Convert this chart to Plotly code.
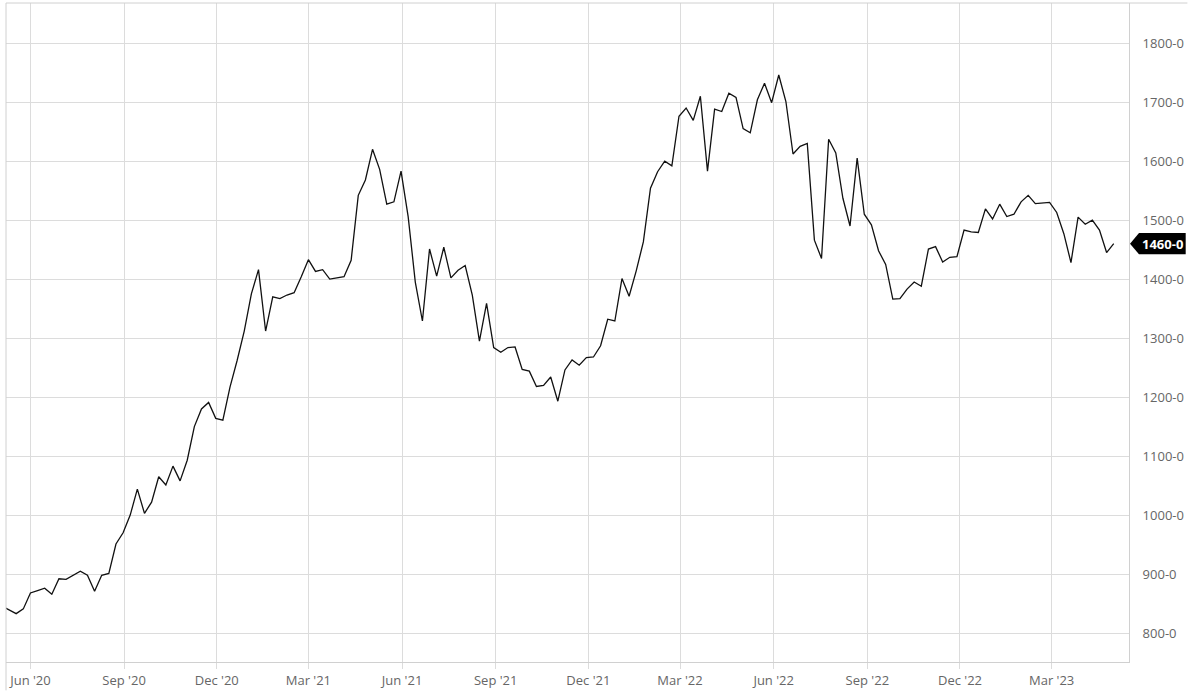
import pandas as pd
import plotly.graph_objects as go

# Weekly closes, first week starting 2020-05-04
start_date = "2020-05-04"
prices = [
    846, 840, 833, 841, 868, 872, 876, 866, 892, 891,
    898, 905, 898, 871, 898, 901, 951, 970, 1000, 1044,
    1003, 1022, 1065, 1051, 1083, 1058, 1093, 1150, 1180, 1191,
    1164, 1161, 1217, 1262, 1312, 1375, 1416, 1312, 1370, 1367,
    1373, 1377, 1404, 1433, 1413, 1416, 1400, 1402, 1404, 1432,
    1542, 1568, 1620, 1586, 1527, 1531, 1583, 1506, 1395, 1329,
    1451, 1405, 1454, 1402, 1415, 1423, 1373, 1295, 1359, 1284,
    1276, 1284, 1285, 1247, 1244, 1218, 1220, 1234, 1193, 1246,
    1263, 1254, 1267, 1268, 1287, 1332, 1329, 1401, 1371, 1414,
    1463, 1554, 1582, 1600, 1592, 1676, 1690, 1669, 1710, 1583,
    1688, 1684, 1715, 1708, 1655, 1648, 1704, 1732, 1699, 1746,
    1701, 1612, 1625, 1630, 1466, 1435, 1637, 1614, 1537, 1490,
    1605, 1510, 1492, 1448, 1425, 1366, 1367, 1383, 1395, 1388,
    1451, 1455, 1429, 1437, 1438, 1483, 1480, 1479, 1519, 1502,
    1527, 1506, 1510, 1531, 1542, 1528, 1529, 1530, 1513, 1477,
    1428, 1505, 1493, 1500, 1483, 1445, 1460,
]
dates = pd.date_range(start=start_date, periods=len(prices), freq="7D")

y_ticks = [800, 900, 1000, 1100, 1200, 1300, 1400, 1500, 1600, 1700, 1800]
y_suffix = "-0"
y_ticktext = [f"{v}{y_suffix}" for v in y_ticks]
x_range = ["2020-05-08", "2023-05-16"]
y_range = [751, 1868]

grid = "#dcdcdc"
label_col = "#666666"
font_family = "Open Sans, Noto Sans, sans-serif"

fig = go.Figure()
fig.add_trace(go.Scatter(
    x=dates, y=prices, mode="lines",
    line=dict(color="#111111", width=1.3),
    hoverinfo="x+y", showlegend=False,
))

last_val = prices[-1]

# price flag on the right axis
fig.add_shape(
    type="path", xref="paper", yref="y",
    path=(f"M 1.0009 {last_val} L 1.0089 {last_val + 18} L 1.0505 {last_val + 18} "
          f"L 1.0505 {last_val - 18} L 1.0089 {last_val - 18} Z"),
    fillcolor="#000000", line=dict(width=0), layer="above",
)
fig.add_annotation(
    x=1.0297, xref="paper", y=last_val, yref="y",
    text=f"<b>{last_val}{y_suffix}</b>", showarrow=False,
    font=dict(color="white", size=13, family=font_family),
    xanchor="center", yanchor="middle",
)

# container borders (left and top)
fig.add_shape(type="line", xref="paper", yref="paper", x0=0, x1=0, y0=-0.043, y1=1,
              line=dict(color="#d0d0d0", width=1))
fig.add_shape(type="line", xref="paper", yref="paper", x0=0, x1=1.052, y0=1, y1=1,
              line=dict(color="#d0d0d0", width=1))

fig.update_layout(
    width=1200, height=700,
    margin=dict(l=6, r=71, t=3, b=38),
    paper_bgcolor="white", plot_bgcolor="white",
    font=dict(family=font_family, size=13, color=label_col),
    xaxis=dict(
        type="date", range=x_range,
        tick0="2020-06-01", dtick="M3", tickformat="%b '%y",
        showgrid=True, gridcolor=grid, gridwidth=1,
        showline=True, linecolor="#d0d0d0", linewidth=1,
        ticks="outside", ticklen=6, tickcolor=grid,
        tickfont=dict(size=13, color=label_col),
        zeroline=False,
    ),
    yaxis=dict(
        side="right", range=y_range,
        tickmode="array", tickvals=y_ticks, ticktext=y_ticktext,
        showgrid=True, gridcolor=grid, gridwidth=1,
        showline=True, linecolor="#d0d0d0", linewidth=1,
        ticks="outside", ticklen=10, tickcolor="rgba(0,0,0,0)",
        tickfont=dict(size=13, color=label_col),
        zeroline=False,
    ),
)

fig.write_html("out.html", config={"displayModeBar": False},
               post_script="document.body.style.margin='0';")
